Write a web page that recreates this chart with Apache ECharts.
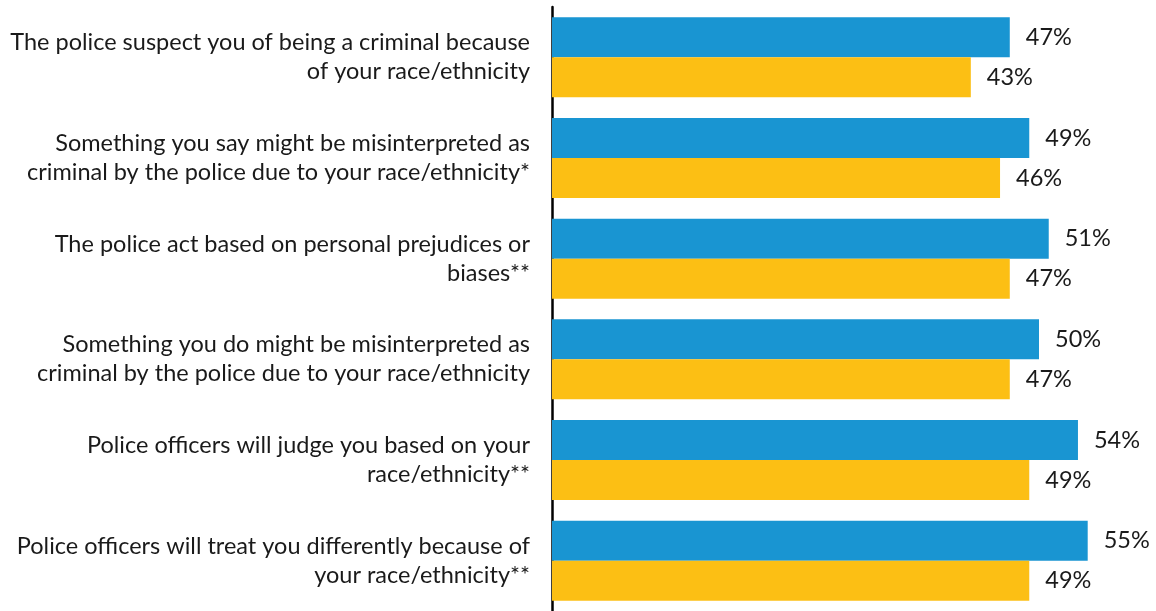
<!DOCTYPE html>
<html>
<head>
<meta charset="utf-8">
<script src="https://cdn.jsdelivr.net/npm/echarts@6/dist/echarts.min.js"></script>
<style>
  html, body { margin: 0; padding: 0; background: #fff; }
  #chart { width: 1156px; height: 611px; }
</style>
</head>
<body>
<div id="chart"></div>
<script>
// Survey statements, listed top to bottom
const categories = [
  'The police suspect you of being a criminal because\nof your race/ethnicity',
  'Something you say might be misinterpreted as\ncriminal by the police due to your race/ethnicity*',
  'The police act based on personal prejudices or\nbiases**',
  'Something you do might be misinterpreted as\ncriminal by the police due to your race/ethnicity',
  'Police officers will judge you based on your\nrace/ethnicity**',
  'Police officers will treat you differently because of\nyour race/ethnicity**'
];
// Share of respondents (%) for the two groups
const blueValues = [47, 49, 51, 50, 54, 55];
const yellowValues = [43, 46, 47, 47, 49, 49];

const FONT = 'Lato';
const TEXT = '#1a1a1a';

const chart = echarts.init(document.getElementById('chart'), null, { renderer: 'canvas' });

const valueLabel = {
  show: true,
  position: 'right',
  distance: 16,
  formatter: '{c}%',
  fontFamily: FONT,
  fontSize: 23.5,
  color: TEXT
};

chart.setOption({
  animation: false,
  backgroundColor: '#ffffff',
  grid: { left: 552, top: 7, width: 584.4, height: 606 },
  xAxis: {
    type: 'value',
    min: 0,
    max: 60,
    show: false
  },
  yAxis: {
    type: 'category',
    data: categories,
    inverse: true,
    axisLine: { show: true, lineStyle: { color: '#000', width: 2.5 } },
    axisTick: { show: false },
    axisLabel: {
      margin: 22,
      fontFamily: FONT,
      fontSize: 23.5,
      lineHeight: 29,
      color: TEXT,
      align: 'right'
    }
  },
  series: [
    {
      name: 'Blue',
      type: 'bar',
      data: blueValues,
      barWidth: 40,
      barGap: '0%',
      itemStyle: { color: '#1995D2' },
      label: valueLabel
    },
    {
      name: 'Yellow',
      type: 'bar',
      data: yellowValues,
      barWidth: 40,
      barGap: '0%',
      itemStyle: { color: '#FCBF14' },
      label: valueLabel
    }
  ]
});
</script>
</body>
</html>
